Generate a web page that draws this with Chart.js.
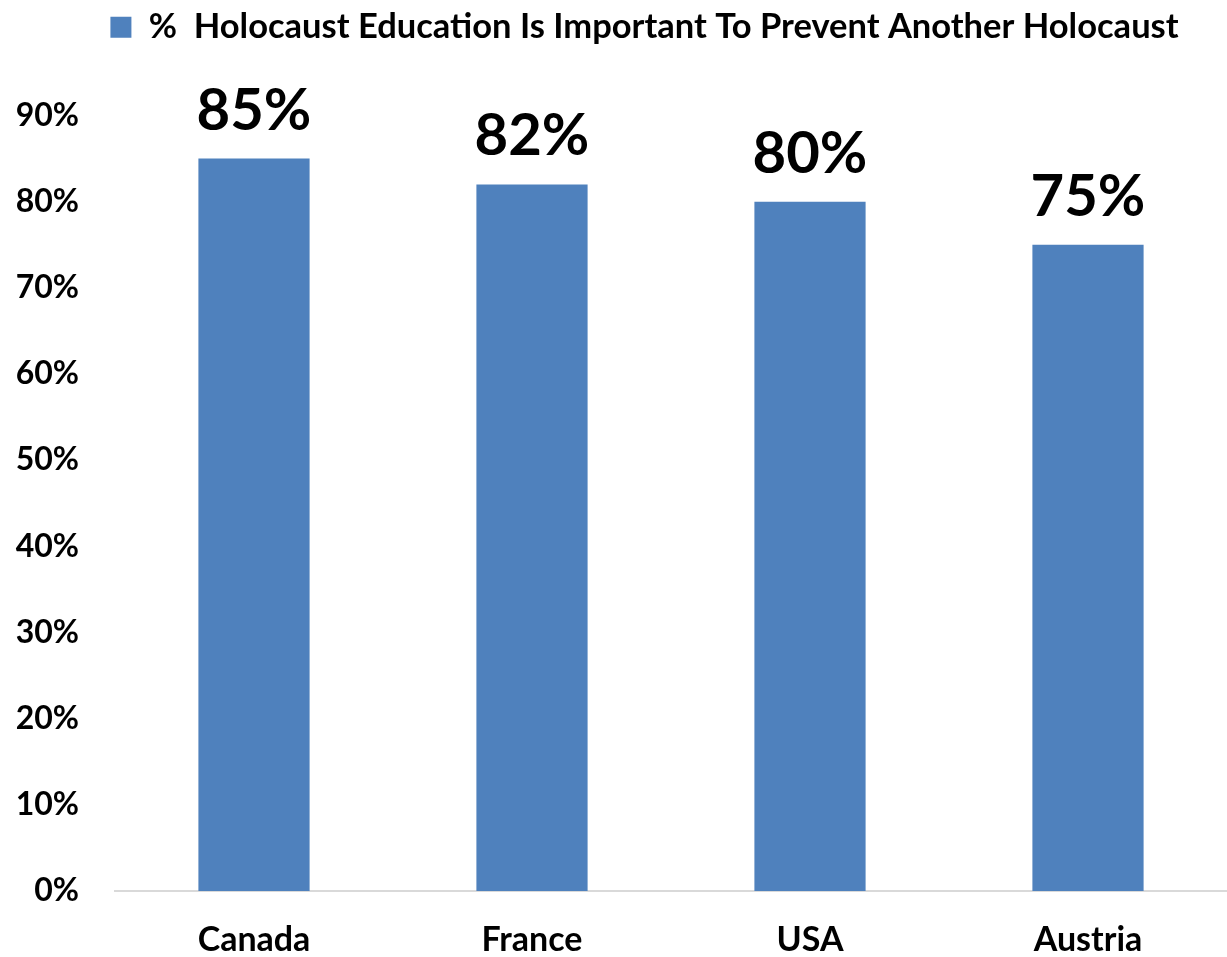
<!DOCTYPE html>
<html>
<head>
<meta charset="utf-8">
<script src="https://cdn.jsdelivr.net/npm/chart.js@4"></script>
<style>
  html, body { margin: 0; padding: 0; background: #fff; }
  #wrap { width: 1227px; height: 957px; }
</style>
</head>
<body>
<div id="wrap"><canvas id="chart"></canvas></div>
<script>
const countries = ["Canada", "France", "USA", "Austria"];
const importantPct = [85, 82, 80, 75];
const seriesLabel = "%  Holocaust Education Is Important To Prevent Another Holocaust";

const FONT = "Lato, 'Liberation Sans', sans-serif";

// legend: leave more room below it and nudge it right, like the original
const legendTweak = {
  id: "legendTweak",
  afterInit(chart) {
    const legend = chart.legend;
    const fit = legend.fit;
    legend.fit = function () {
      fit.call(this);
      this.height += 61;
    };
  },
  afterLayout(chart) {
    chart.legend.left += 31;
    chart.legend.right += 31;
  },
};

const valueLabels = {
  id: "valueLabels",
  afterDatasetsDraw(chart) {
    const ctx = chart.ctx;
    const meta = chart.getDatasetMeta(0);
    ctx.save();
    ctx.font = "bold 58px " + FONT;
    ctx.fillStyle = "#000";
    ctx.textAlign = "center";
    ctx.textBaseline = "alphabetic";
    meta.data.forEach((bar, i) => {
      ctx.fillText(importantPct[i] + "%", bar.x, bar.y - 29);
    });
    ctx.restore();
  },
};

new Chart(document.getElementById("chart"), {
  type: "bar",
  data: {
    labels: countries,
    datasets: [
      {
        label: seriesLabel,
        data: importantPct,
        backgroundColor: "#4F81BD",
        barPercentage: 0.4,
        categoryPercentage: 1,
      },
    ],
  },
  options: {
    responsive: true,
    maintainAspectRatio: false,
    animation: false,
    layout: { padding: 0 },
    plugins: {
      legend: {
        position: "top",
        labels: {
          boxWidth: 21,
          boxHeight: 21,
          color: "#000",
          font: { family: FONT, size: 34.5, weight: "bold" },
          padding: 10,
        },
      },
      tooltip: { enabled: false },
    },
    scales: {
      x: {
        grid: { display: false, drawTicks: false },
        border: { color: "#d9d9d9", width: 2 },
        ticks: {
          color: "#000",
          font: { family: FONT, size: 34, weight: "bold" },
          padding: 29,
        },
        afterFit: (scale) => {
          scale.height = 66;
        },
      },
      y: {
        min: 0,
        max: 90,
        grid: { display: false, drawTicks: false },
        border: { display: false },
        ticks: {
          stepSize: 10,
          color: "#000",
          font: { family: FONT, size: 32, weight: "bold" },
          padding: 36,
          callback: (v) => v + "%",
        },
        afterFit: (scale) => {
          scale.width = 115;
        },
      },
    },
  },
  plugins: [legendTweak, valueLabels],
});
</script>
</body>
</html>
